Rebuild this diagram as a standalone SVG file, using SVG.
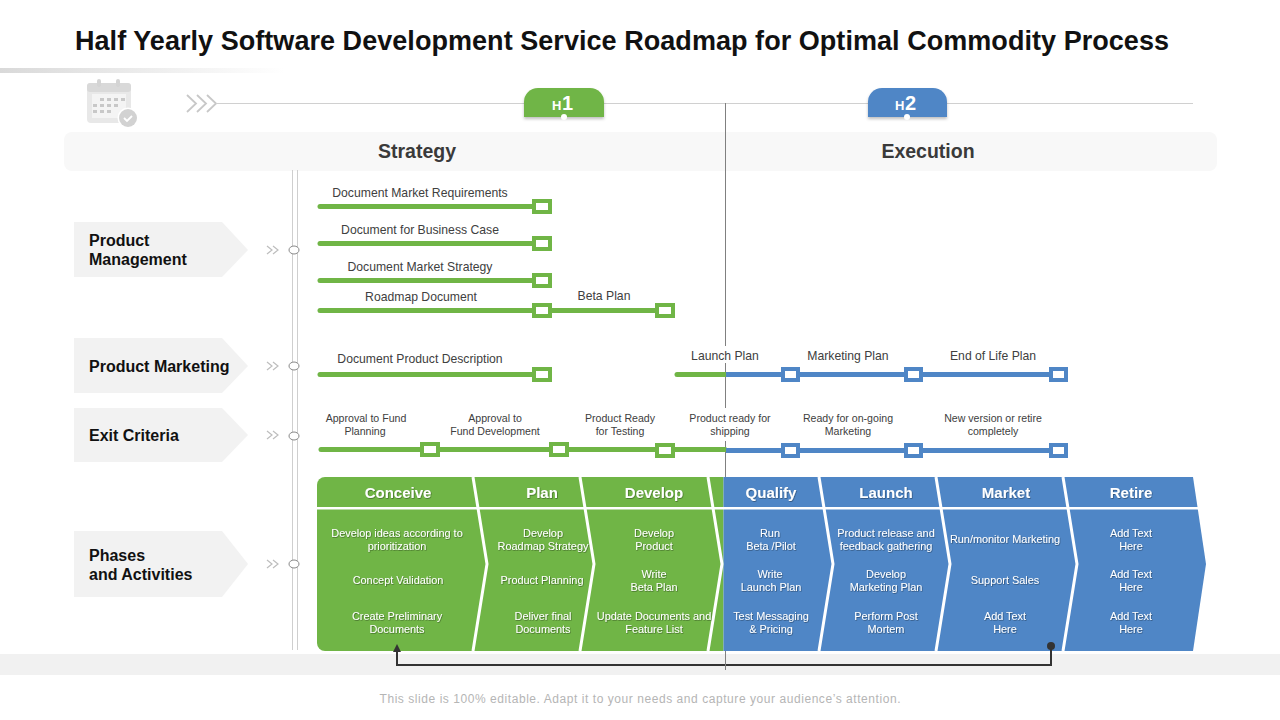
<svg xmlns="http://www.w3.org/2000/svg" width="1280" height="720" viewBox="0 0 1280 720">
<style>
text{font-family:"Liberation Sans",Arial,sans-serif}
.t{font-size:12.2px;fill:#404040;text-anchor:middle}
.e{font-size:10.600px;fill:#404040;text-anchor:middle}
.w{font-size:10.900px;fill:#fff;text-anchor:middle;filter:url(#ts)}
.h{font-size:15px;font-weight:bold;fill:#fff;text-anchor:middle;filter:url(#ts)}
.l{font-size:16px;font-weight:bold;fill:#111}
.s{font-size:19.500px;font-weight:bold;fill:#3a3a3a;text-anchor:middle}
.pent{fill:#f2f2f2}
.gb{stroke:#70b546;stroke-width:5;fill:none;stroke-linecap:round}
.bb{stroke:#4f86c6;stroke-width:5;fill:none}
.gs{fill:#fff;stroke:#70b546;stroke-width:4}
.bs{fill:#fff;stroke:#4f86c6;stroke-width:4}
.sep{stroke:#fff;stroke-width:3;fill:none}
.chev{stroke:#bdbdbd;stroke-width:1.200;fill:none}
.dot{fill:#fff;stroke:#888;stroke-width:1}
</style>
<defs>
<linearGradient id="fade" x1="0" x2="1" y1="0" y2="0"><stop offset="0" stop-color="#d9d9d9"/><stop offset="1" stop-color="#fff"/></linearGradient>
<filter id="ts" x="-10%" y="-20%" width="120%" height="150%"><feDropShadow dx="0.6" dy="0.7" stdDeviation="0.4" flood-color="#000" flood-opacity="0.45"/></filter>
<filter id="sh" x="-10%" y="-20%" width="120%" height="150%"><feDropShadow dx="0" dy="2" stdDeviation="1.500" flood-color="#000" flood-opacity="0.25"/></filter>
</defs>
<rect width="1280" height="720" fill="#fff"/>
<text id="title" x="75" y="50" font-size="27" font-weight="bold" fill="#111" textLength="1094" lengthAdjust="spacing">Half Yearly Software Development Service Roadmap for Optimal Commodity Process</text>
<rect x="0" y="68" width="285" height="5" fill="url(#fade)"/>
<rect x="0" y="654" width="1280" height="21" fill="#f1f1f1"/>
<rect x="64" y="132" width="1153" height="39" rx="8" fill="#f8f8f8"/>
<text class="s" x="417" y="158">Strategy</text>
<text class="s" x="928" y="158">Execution</text>

<g id="calendar">
<rect x="87" y="83" width="44" height="40" rx="4" fill="#e8e8e8"/>
<rect x="87" y="83" width="44" height="9" rx="3" fill="#d9d9d9"/>
<rect x="97" y="79" width="4" height="8" rx="2" fill="#d4d4d4"/>
<rect x="116" y="79" width="4" height="8" rx="2" fill="#d4d4d4"/>
<rect x="92" y="94" width="34" height="24" fill="#f4f4f4"/>
<path d="M100 98h4v3h-4zM107 98h4v3h-4zM114 98h4v3h-4zM121 98h4v3h-4zM93 104h4v3h-4zM100 104h4v3h-4zM107 104h4v3h-4zM114 104h4v3h-4zM93 110h4v3h-4zM100 110h4v3h-4zM107 110h4v3h-4z" fill="#c8c8c8"/>
<circle cx="128" cy="118" r="10.500" fill="#fff"/>
<circle cx="128" cy="118" r="9" fill="#d2d2d2"/>
<path d="M124 118l3 3 5-5" stroke="#fff" stroke-width="1.800" fill="none"/>
</g>
<g id="top-arrows" fill="none" stroke="#c8c8c8" stroke-width="1.800">
<path d="M187 95l9 8.500-9 8.500M197 95l9 8.500-9 8.500M207 95l9 8.500-9 8.500"/>
</g>
<line x1="216" y1="103.500" x2="1193" y2="103.500" stroke="#d0d0d0"/>

<g id="connectors">
<line x1="292.500" y1="170" x2="292.500" y2="650" stroke="#cfcfcf"/>
<line x1="297.500" y1="170" x2="297.500" y2="650" stroke="#cfcfcf"/>
<line x1="725.500" y1="103" x2="725.500" y2="670" stroke="#808080"/>
</g>

<g id="h1"><path d="M524 117V102a14 14 0 0 1 14-14h52a14 14 0 0 1 14 14v15z" fill="#70b546" filter="url(#sh)"/>
<text x="552" y="110" font-size="13" font-weight="bold" fill="#fff">H</text><text x="562" y="110" font-size="20" font-weight="bold" fill="#fff">1</text><circle cx="564" cy="117" r="3" fill="#fff"/></g>
<g id="h2"><path d="M868 117V102a14 14 0 0 1 14-14h51a14 14 0 0 1 14 14v15z" fill="#4f86c6" filter="url(#sh)"/>
<text x="895" y="110" font-size="13" font-weight="bold" fill="#fff">H</text><text x="905" y="110" font-size="20" font-weight="bold" fill="#fff">2</text><circle cx="907" cy="117" r="3" fill="#fff"/></g>

<g id="pm"><path class="pent" d="M74 222H222L248 250 222 277H74z"/><text class="l" x="89" y="246">Product</text><text class="l" x="89" y="265">Management</text>
<path class="chev" d="M267 246l5 4-5 4M273 246l5 4-5 4"/><ellipse class="dot" cx="294" cy="250" rx="5" ry="4"/></g>
<g id="pmk"><path class="pent" d="M74 338H222L248 366 222 393H74z"/><text class="l" x="89" y="372">Product Marketing</text>
<path class="chev" d="M267 362l5 4-5 4M273 362l5 4-5 4"/><ellipse class="dot" cx="294" cy="366" rx="5" ry="4"/></g>
<g id="ec"><path class="pent" d="M74 408H222L248 435 222 462H74z"/><text class="l" x="89" y="441">Exit Criteria</text>
<path class="chev" d="M267 431l5 4-5 4M273 431l5 4-5 4"/><ellipse class="dot" cx="294" cy="436" rx="5" ry="4"/></g>
<g id="pa"><path class="pent" d="M74 531H222L248 564 222 597H74z"/><text class="l" x="89" y="561">Phases</text><text class="l" x="89" y="580">and Activities</text>
<path class="chev" d="M267 560l5 4-5 4M273 560l5 4-5 4"/><ellipse class="dot" cx="294" cy="564" rx="5" ry="4"/></g>

<g id="tracks">
<line class="gb" x1="320" y1="206.500" x2="541" y2="206.500"/><rect class="gs" x="534" y="201" width="16" height="11"/>
<line class="gb" x1="320" y1="243.500" x2="541" y2="243.500"/><rect class="gs" x="534" y="238" width="16" height="11"/>
<line class="gb" x1="320" y1="280.500" x2="541" y2="280.500"/><rect class="gs" x="534" y="275" width="16" height="11"/>
<line class="gb" x1="320" y1="310.500" x2="665" y2="310.500"/><rect class="gs" x="534" y="305" width="16" height="11"/><rect class="gs" x="657" y="305" width="16" height="11"/>
<line class="gb" x1="320" y1="374.500" x2="541" y2="374.500"/><rect class="gs" x="534" y="369" width="16" height="11"/>
<line class="gb" x1="677" y1="374.500" x2="725" y2="374.500"/><line class="bb" x1="726" y1="374.500" x2="1058" y2="374.500"/>
<rect class="bs" x="783" y="369" width="15" height="11"/><rect class="bs" x="906" y="369" width="15" height="11"/><rect class="bs" x="1051" y="369" width="15" height="11"/>
<line class="gb" x1="321" y1="449.500" x2="725" y2="449.500"/><line class="bb" x1="726" y1="450.500" x2="1058" y2="450.500"/>
<rect class="gs" x="422" y="444" width="16" height="11"/><rect class="gs" x="551" y="444" width="16" height="11"/><rect class="gs" x="657" y="445" width="16" height="11"/>
<rect class="bs" x="783" y="445" width="15" height="11"/><rect class="bs" x="906" y="445" width="15" height="11"/><rect class="bs" x="1051" y="445" width="15" height="11"/>
</g>
<g id="track-labels">
<text class="t" x="420" y="197">Document Market Requirements</text>
<text class="t" x="420" y="234">Document for Business Case</text>
<text class="t" x="420" y="271">Document Market Strategy</text>
<text class="t" x="421" y="301">Roadmap Document</text>
<text class="t" x="604" y="300">Beta Plan</text>
<text class="t" x="420" y="363">Document Product Description</text>
<rect x="688" y="346" width="74" height="17" fill="#fff"/><text class="t" x="725" y="360">Launch Plan</text>
<text class="t" x="848" y="360">Marketing Plan</text>
<text class="t" x="993" y="360">End of Life Plan</text>
<text class="e" x="366" y="422">Approval to Fund</text><text class="e" x="365" y="435">Planning</text>
<text class="e" x="495" y="422">Approval to</text><text class="e" x="495" y="435">Fund Development</text>
<text class="e" x="620" y="422">Product Ready</text><text class="e" x="620" y="435">for Testing</text>
<rect x="684" y="408" width="92" height="33" fill="#fff"/>
<text class="e" x="730" y="422">Product ready for</text><text class="e" x="730" y="435">shipping</text>
<text class="e" x="848" y="422">Ready for on-going</text><text class="e" x="848" y="435">Marketing</text>
<text class="e" x="993" y="422">New version or retire</text><text class="e" x="993" y="435">completely</text>
</g>

<g id="phases">
<path d="M317 485a8 8 0 0 1 8-8H723.500V651H325a8 8 0 0 1-8-8z" fill="#70b546"/>
<path d="M723.500 477H1193L1206 564 1193 651H723.500z" fill="#4f86c6"/>
<rect x="317" y="507" width="890" height="2.500" fill="#fff"/>
<path class="sep" d="M473 477 487 564 473 651"/>
<path class="sep" d="M580 477 594 564 580 651"/>
<path class="sep" d="M708 477 722 564 708 651"/>
<path class="sep" d="M819 477 833 564 819 651"/>
<path class="sep" d="M936 477 950 564 936 651"/>
<path class="sep" d="M1063 477 1077 564 1063 651"/>
</g>
<g id="phase-labels">
<text class="h" x="398" y="498">Conceive</text><text class="h" x="542" y="498">Plan</text><text class="h" x="654" y="498">Develop</text><text class="h" x="771" y="498">Qualify</text><text class="h" x="886" y="498">Launch</text><text class="h" x="1006" y="498">Market</text><text class="h" x="1131" y="498">Retire</text>
<text class="w" x="397" y="537">Develop ideas according to</text><text class="w" x="397" y="550">prioritization</text>
<text class="w" x="398" y="584">Concept Validation</text>
<text class="w" x="397" y="620">Create Preliminary</text><text class="w" x="397" y="633">Documents</text>
<text class="w" x="543" y="537">Develop</text><text class="w" x="543" y="550">Roadmap Strategy</text>
<text class="w" x="542" y="584">Product Planning</text>
<text class="w" x="543" y="620">Deliver final</text><text class="w" x="543" y="633">Documents</text>
<text class="w" x="654" y="537">Develop</text><text class="w" x="654" y="550">Product</text>
<text class="w" x="654" y="578">Write</text><text class="w" x="654" y="591">Beta Plan</text>
<text class="w" x="654" y="620">Update Documents and</text><text class="w" x="654" y="633">Feature List</text>
<text class="w" x="770" y="537">Run</text><text class="w" x="771" y="550">Beta /Pilot</text>
<text class="w" x="770" y="578">Write</text><text class="w" x="771" y="591">Launch Plan</text>
<text class="w" x="771" y="620">Test Messaging</text><text class="w" x="771" y="633">&amp; Pricing</text>
<text class="w" x="886" y="537">Product release and</text><text class="w" x="886" y="550">feedback gathering</text>
<text class="w" x="886" y="578">Develop</text><text class="w" x="886" y="591">Marketing Plan</text>
<text class="w" x="886" y="620">Perform Post</text><text class="w" x="886" y="633">Mortem</text>
<text class="w" x="1005" y="543">Run/monitor Marketing</text>
<text class="w" x="1005" y="584">Support Sales</text>
<text class="w" x="1005" y="620">Add Text</text><text class="w" x="1005" y="633">Here</text>
<text class="w" x="1131" y="537">Add Text</text><text class="w" x="1131" y="550">Here</text>
<text class="w" x="1131" y="578">Add Text</text><text class="w" x="1131" y="591">Here</text>
<text class="w" x="1131" y="620">Add Text</text><text class="w" x="1131" y="633">Here</text>
</g>
<g id="return-connector">
<path d="M1051 646V665H397V651" fill="none" stroke="#333" stroke-width="2"/>
<path d="M393 652H401L397 644Z" fill="#333"/>
<circle cx="1051" cy="646" r="4" fill="#333"/>
<line x1="725.500" y1="651" x2="725.500" y2="670" stroke="#808080"/>
</g>
<text id="foot" x="640" y="703" font-size="12" fill="#b5b5b5" text-anchor="middle" textLength="521" lengthAdjust="spacing">This slide is 100% editable. Adapt it to your needs and capture your audience’s attention.</text>
</svg>
